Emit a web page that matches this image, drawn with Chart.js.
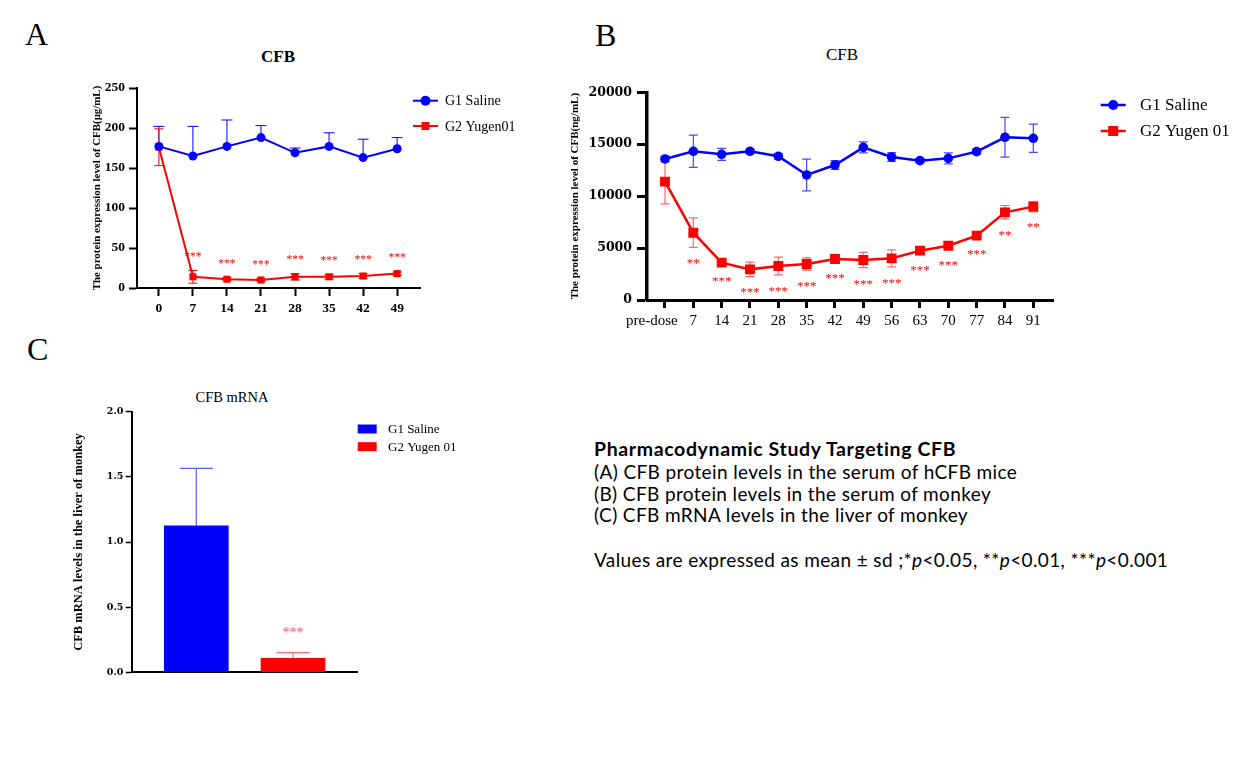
<!DOCTYPE html>
<html><head><meta charset="utf-8">
<script src="https://cdn.jsdelivr.net/npm/chart.js@4.4.0/dist/chart.umd.min.js"></script>
<style>
html,body{margin:0;padding:0;background:#fff;}
body{width:1258px;height:759px;position:relative;overflow:hidden;font-family:"Liberation Serif","Times New Roman",serif;color:#000;}
.abs{position:absolute;white-space:nowrap;line-height:1;}
canvas{position:absolute;}
.ttl{position:absolute;width:200px;text-align:center;line-height:1;white-space:nowrap;}
.txt{position:absolute;left:594px;font-family:Lato,"Open Sans",sans-serif;font-size:19px;letter-spacing:0.38px;white-space:nowrap;line-height:1;}
</style></head><body>
<div class="abs" style="left:25px;top:18px;font-size:32px">A</div>
<div class="abs" style="left:595px;top:19px;font-size:32px">B</div>
<div class="abs" style="left:27px;top:333px;font-size:32px">C</div>

<div class="ttl" style="left:178px;top:48px;font-size:17px;font-weight:bold">CFB</div>
<div class="ttl" style="left:742px;top:46px;font-size:17px">CFB</div>
<div class="ttl" style="left:132px;top:390px;font-size:14.5px">CFB mRNA</div>

<canvas id="cA" width="470" height="290" style="left:80px;top:40px"></canvas>
<canvas id="cB" width="690" height="300" style="left:560px;top:40px"></canvas>
<canvas id="cC" width="420" height="320" style="left:60px;top:380px"></canvas>

<div class="txt" style="top:439px;font-weight:bold;font-size:19.5px;letter-spacing:0.63px">Pharmacodynamic Study Targeting CFB</div>
<div class="txt" style="top:462px">(A) CFB protein levels in the serum of hCFB mice</div>
<div class="txt" style="top:484px">(B) CFB protein levels in the serum of monkey</div>
<div class="txt" style="top:505px">(C) CFB mRNA levels in the liver of monkey</div>
<div class="txt" style="top:550px">Values are expressed as mean ± sd ;*<i>p</i>&lt;0.05, **<i>p</i>&lt;0.01, ***<i>p</i>&lt;0.001</div>

<script>
// ---------- Data ----------
const daysA = [0, 7, 14, 21, 28, 35, 42, 49];
const g1A   = [177, 165, 177, 188, 169, 177, 163, 174];
const g1ASd = [25, 37, 33, 15, 6, 17, 23, 14];
const g2A   = [176, 14, 11, 10, 14, 14, 15, 18];
const g2ASd = [23, 8, 2, 2, 4, 3, 3, 2];
const sigA  = ['', '***', '***', '***', '***', '***', '***', '***'];
const ticksAY = [0, 50, 100, 150, 200, 250];

const labelsB = ['pre-dose', '7', '14', '21', '28', '35', '42', '49', '56', '63', '70', '77', '84', '91'];
const g1B   = [13580, 14320, 14030, 14320, 13840, 12040, 13000, 14700, 13770, 13420, 13640, 14290, 15670, 15570];
const g1BSd = [250, 1550, 580, 200, 250, 1530, 420, 530, 420, 200, 530, 250, 1920, 1360];
const g2B   = [11400, 6480, 3600, 2950, 3270, 3470, 3950, 3850, 4010, 4750, 5230, 6200, 8440, 8990];
const g2BSd = [2150, 1420, 200, 690, 860, 590, 320, 740, 820, 300, 320, 220, 660, 480];
const sigB  = ['', '**', '***', '***', '***', '***', '***', '***', '***', '***', '***', '***', '**', '**'];
const ticksBY = [0, 5000, 10000, 15000, 20000];

const groupsC = ['G1 Saline', 'G2 Yugen 01'];
const valuesC = [1.125, 0.107];
const sdC     = [0.44, 0.044];
const sigC    = ['', '***'];
const ticksCY = [0, 0.5, 1, 1.5, 2];

// ---------- Helpers ----------
const SERIF = '"Liberation Serif", "Times New Roman", serif';
const DSERIF = '"DejaVu Serif", serif';
const BLUE = '#0000ff', RED = '#ff0000';
function cssFont(size, weight) { return (weight ? weight + ' ' : 'normal ') + size + 'px "Liberation Serif", serif'; }

const errPlugin = {
  id: 'errBars',
  beforeDatasetsDraw(chart) {
    const ctx = chart.ctx, ys = chart.scales.y;
    chart.data.datasets.forEach((ds, di) => {
      if (!ds.sd) return;
      const meta = chart.getDatasetMeta(di);
      ctx.save();
      ctx.strokeStyle = ds.errColor; ctx.lineWidth = ds.errWidth || 1.2;
      meta.data.forEach((el, i) => {
        const v = ds.vals[i], s = ds.sd[i];
        if (s == null) return;
        const x = el.x, c = ds.capW / 2;
        const yt = ys.getPixelForValue(v + s);
        const yb = ds.errBoth ? ys.getPixelForValue(v - s) : ys.getPixelForValue(v);
        ctx.beginPath();
        ctx.moveTo(x, yt); ctx.lineTo(x, yb);
        ctx.moveTo(x - c, yt); ctx.lineTo(x + c, yt);
        if (ds.errBoth) { ctx.moveTo(x - c, yb); ctx.lineTo(x + c, yb); }
        ctx.stroke();
      });
      ctx.restore();
    });
  }
};

const sigPlugin = {
  id: 'sigStars',
  afterDatasetsDraw(chart) {
    const ctx = chart.ctx, ys = chart.scales.y;
    chart.data.datasets.forEach((ds, di) => {
      if (!ds.sig) return;
      const meta = chart.getDatasetMeta(di);
      ctx.save();
      ctx.fillStyle = ds.sigColor || RED;
      ctx.font = cssFont(ds.sigFontSize);
      ctx.textAlign = 'center'; ctx.textBaseline = 'alphabetic';
      meta.data.forEach((el, i) => {
        const s = ds.sig[i]; if (!s) return;
        let y;
        if (ds.sigDir === 'up') y = ys.getPixelForValue(ds.vals[i] + ds.sd[i]) - ds.sigOff;
        else y = ys.getPixelForValue(ds.vals[i] - ds.sd[i]) + ds.sigOff;
        ctx.fillText(s, el.x, y + ds.sigFontSize * 0.45);
      });
      ctx.restore();
    });
  }
};

// legend drawn from dataset labels/colours; style settings passed via a closure
function makeLegend(cfg) {
  return {
    id: 'customLegend',
    afterDraw(chart) {
      const ctx = chart.ctx, ca = chart.chartArea;
      ctx.save();
      chart.data.datasets.forEach((ds, i) => {
        const y = ca.top + cfg.rows[i];
        const x0 = ca.right + cfg.x0, x1 = ca.right + cfg.x1;
        const col = ds.legendColor || ds.borderColor;
        ctx.fillStyle = col; ctx.strokeStyle = col;
        if (cfg.kind === 'bar') {
          ctx.fillRect(x0, y - cfg.sw / 2, x1 - x0, cfg.sw);
        } else {
          ctx.lineWidth = cfg.lw;
          ctx.beginPath(); ctx.moveTo(x0, y); ctx.lineTo(x1, y); ctx.stroke();
          const xm = (x0 + x1) / 2;
          if (ds.pointStyle === 'rect') {
            const h = cfg.sq / 2;
            ctx.fillRect(xm - h, y - h, 2 * h, 2 * h);
          } else {
            ctx.beginPath(); ctx.arc(xm, y, cfg.cr, 0, Math.PI * 2); ctx.fill();
          }
        }
        ctx.fillStyle = '#000';
        ctx.font = cssFont(cfg.size);
        ctx.textAlign = 'left'; ctx.textBaseline = 'middle';
        ctx.fillText(ds.label, ca.right + cfg.tx, y + 1);
      });
      ctx.restore();
    }
  };
}

function fixedTicks(vals) { return (axis) => { axis.ticks = vals.map(v => ({ value: v })); }; }

// ---------- Panel A ----------
new Chart(document.getElementById('cA'), {
  type: 'line',
  data: {
    datasets: [
      { label: 'G1 Saline', data: daysA.map((d, i) => ({ x: d, y: g1A[i] })),
        borderColor: BLUE, backgroundColor: BLUE, borderWidth: 2, pointStyle: 'circle', pointRadius: 4.5, pointBorderWidth: 0,
        vals: g1A, sd: g1ASd, errBoth: false, errColor: BLUE, capW: 11, errWidth: 1 },
      { label: 'G2 Yugen01', data: daysA.map((d, i) => ({ x: d, y: g2A[i] })),
        borderColor: RED, backgroundColor: RED, borderWidth: 2, pointStyle: 'rect', pointRadius: 5, pointBorderWidth: 0,
        vals: g2A, sd: g2ASd, errBoth: true, errColor: RED, capW: 9, errWidth: 1,
        sig: sigA, sigDir: 'up', sigOff: 16, sigFontSize: 11.5 }
    ]
  },
  options: {
    responsive: false, animation: false, events: [],
    layout: { padding: { left: 0, top: 48, right: 130, bottom: 0 } },
    plugins: { legend: { display: false }, tooltip: { enabled: false } },
    scales: {
      x: { type: 'linear', min: -4.5, max: 53.7, offset: false,
        afterBuildTicks: fixedTicks(daysA),
        afterFit: s => { s.height = 42; },
        ticks: { autoSkip: false, maxRotation: 0, padding: 4, color: '#000', font: { family: SERIF, size: 13.5, weight: 'bold' } },
        grid: { display: true, drawOnChartArea: false, drawTicks: true, tickLength: 8, tickWidth: 2, tickColor: '#000' },
        border: { display: true, color: '#000', width: 2 } },
      y: { type: 'linear', min: 0, max: 250,
        afterBuildTicks: fixedTicks(ticksAY),
        afterFit: s => { s.width = 57; },
        ticks: { padding: 4, color: '#000', font: { family: SERIF, size: 13.5, weight: 'bold' } },
        grid: { display: true, drawOnChartArea: false, drawTicks: true, tickLength: 8, tickWidth: 2, tickColor: '#000' },
        border: { display: true, color: '#000', width: 2 },
        title: { display: true, text: 'The protein expression level of CFB(μg/mL)', color: '#000', padding: { top: 10.5, bottom: 0 },
          font: { family: SERIF, size: 10.9, weight: 'bold' } } }
    }
  },
  plugins: [errPlugin, sigPlugin, makeLegend({ rows: [12.7, 38], x0: -7, x1: 18, tx: 25, lw: 2, cr: 5, sq: 8, size: 14 })]
});

// ---------- Panel B ----------
const idxB = labelsB.map((_, i) => i);
new Chart(document.getElementById('cB'), {
  type: 'line',
  data: {
    datasets: [
      { label: 'G1 Saline', data: idxB.map(i => ({ x: i, y: g1B[i] })),
        borderColor: BLUE, backgroundColor: BLUE, borderWidth: 2.5, pointStyle: 'circle', pointRadius: 4.8, pointBorderWidth: 0,
        vals: g1B, sd: g1BSd, errBoth: true, errColor: 'rgba(40,40,255,0.85)', capW: 9, errWidth: 1.2 },
      { label: 'G2 Yugen 01', data: idxB.map(i => ({ x: i, y: g2B[i] })),
        borderColor: RED, backgroundColor: RED, borderWidth: 2.5, pointStyle: 'rect', pointRadius: 7, pointBorderWidth: 0,
        vals: g2B, sd: g2BSd, errBoth: true, errColor: 'rgba(255,40,40,0.7)', capW: 9, errWidth: 1.2,
        sig: sigB, sigDir: 'down', sigOff: 14, sigFontSize: 13 }
    ]
  },
  options: {
    responsive: false, animation: false, events: [],
    layout: { padding: { left: 0, top: 52.3, right: 197, bottom: 0 } },
    plugins: { legend: { display: false }, tooltip: { enabled: false } },
    scales: {
      x: { type: 'linear', min: -0.635, max: 13.695, offset: false,
        afterBuildTicks: fixedTicks(idxB),
        afterFit: s => { s.height = 40; },
        ticks: { autoSkip: false, maxRotation: 0, padding: 4, color: '#000',
          callback: v => (v === 0 ? labelsB[v] + '\u2002\u2002\u2002 ' : labelsB[v]),
          font: { family: SERIF, size: 15 } },
        grid: { display: true, drawOnChartArea: false, drawTicks: true, tickLength: 8, tickWidth: 3, tickColor: '#000' },
        border: { display: true, color: '#000', width: 3 } },
      y: { type: 'linear', min: 0, max: 20000,
        afterBuildTicks: fixedTicks(ticksBY),
        afterFit: s => { s.width = 87; },
        ticks: { padding: 5, color: '#000', callback: v => String(v), font: { family: DSERIF, size: 12.5, weight: 'bold' } },
        grid: { display: true, drawOnChartArea: false, drawTicks: true, tickLength: 10, tickWidth: 3, tickColor: '#000' },
        border: { display: true, color: '#000', width: 3.5 },
        title: { display: true, text: 'The protein expression level of CFB(ng/mL)', color: '#000', padding: { top: 8.4, bottom: 0 },
          font: { family: SERIF, size: 11, weight: 'bold' } } }
    }
  },
  plugins: [errPlugin, sigPlugin, makeLegend({ rows: [12.7, 38.7], x0: 47.7, x1: 72.7, tx: 87, lw: 2.5, cr: 5, sq: 10, size: 17 })]
});

// ---------- Panel C ----------
const colorsC = [BLUE, RED];
new Chart(document.getElementById('cC'), {
  type: 'bar',
  data: {
    datasets: groupsC.map((g, i) => ({
      label: g, data: [{ x: i, y: valuesC[i] }],
      backgroundColor: colorsC[i], borderWidth: 0, barThickness: 64, grouped: false,
      legendColor: colorsC[i],
      vals: [valuesC[i]], sd: [sdC[i]], errBoth: false,
      errColor: i === 0 ? 'rgba(60,60,255,0.85)' : 'rgba(255,70,70,0.8)', capW: 33, errWidth: 1.2,
      sig: sigC[i] ? [sigC[i]] : null, sigDir: 'up', sigOff: 22, sigFontSize: 14, sigColor: 'rgba(255,60,60,0.9)'
    }))
  },
  options: {
    responsive: false, animation: false, events: [],
    layout: { padding: { left: 0, top: 31.7, right: 122.3, bottom: 0 } },
    plugins: { legend: { display: false }, tooltip: { enabled: false } },
    scales: {
      x: { type: 'linear', min: -0.668, max: 1.669, offset: false,
        afterFit: s => { s.height = 27.7; },
        ticks: { display: false },
        grid: { display: false },
        border: { display: true, color: '#000', width: 2 } },
      y: { type: 'linear', min: 0, max: 2,
        afterBuildTicks: fixedTicks(ticksCY),
        afterFit: s => { s.width = 71.7; },
        ticks: { padding: 2.4, color: '#000', callback: v => v.toFixed(1), font: { family: DSERIF, size: 9.5, weight: 'bold' } },
        grid: { display: true, drawOnChartArea: false, drawTicks: true, tickLength: 6, tickWidth: 1.5, tickColor: '#000' },
        border: { display: true, color: '#000', width: 2 },
        title: { display: true, text: 'CFB mRNA levels in the liver of monkey', color: '#000', padding: { top: 11.5, bottom: 0 },
          font: { family: SERIF, size: 12.5, weight: 'bold' } } }
    }
  },
  plugins: [errPlugin, sigPlugin, makeLegend({ kind: 'bar', rows: [17.3, 35], x0: 0, x1: 19, sw: 9, tx: 30.3, size: 13 })]
});
</script>
</body></html>
